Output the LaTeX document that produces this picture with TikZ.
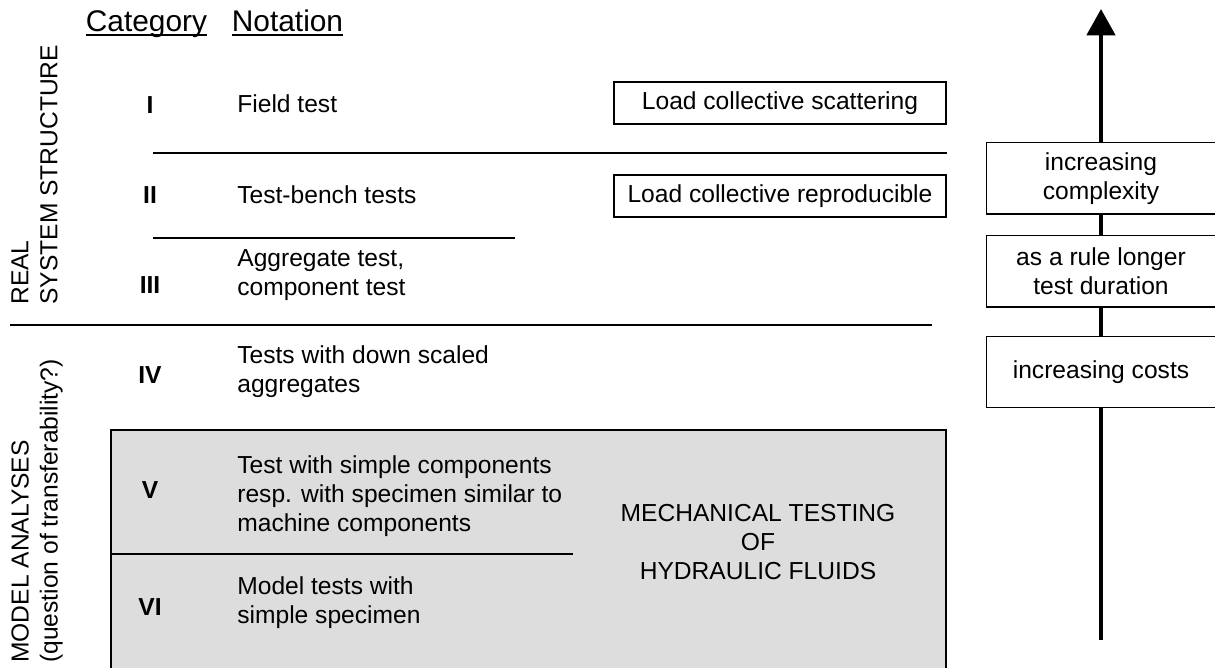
\documentclass[tikz,border=0pt]{standalone}
\usepackage{fontspec}
\setmainfont{Liberation Sans}
\usepackage{tikz}
\usetikzlibrary{arrows.meta,positioning,calc}
\definecolor{boxgray}{HTML}{DDDDDD}
\newcommand{\bodyfont}{\fontsize{14}{16.5}\selectfont}
\tikzset{
  sepline/.style={line width=.85pt},
  txt/.style={inner sep=0pt,align=left},
  heading/.style={inner sep=0pt,font=\fontsize{17}{20}\selectfont},
  numeral/.style={inner sep=0pt,font=\bodyfont\bfseries},
  loadbox/.style={draw,line width=.85pt,minimum width=6.64cm,minimum height=.84cm,inner sep=0pt},
  trendbox/.style={draw,fill=white,line width=.85pt,minimum width=4.58cm,minimum height=1.43cm,inner sep=0pt,align=center},
  trendline/.style={line width=2.5pt}
}

\begin{document}
\begin{tikzpicture}[x=.02cm,y=-.02cm,font=\bodyfont]
 \useasboundingbox (0,0) rectangle (1215,668);
 \fill[boxgray] (111,430) rectangle (946,672);
 \draw[sepline] (111,672)--(111,430)--(946,430)--(946,672);
 \draw[sepline] (153,153)--(947,153);
 \draw[sepline] (153,238)--(515,238);
 \draw[sepline] (10,325)--(932,325);
 \draw[sepline] (111,554)--(573,554);
 % headings
 \node[heading,anchor=base] (cat) at (146.5,32) {Category};
 \node[heading,anchor=base] (nota) at (287.5,32) {Notation};
 \foreach \n in {cat,nota}
   \draw[line width=.8pt] ([yshift=-.06cm]\n.base west)--([yshift=-.06cm]\n.base east);
 % categories
 \foreach \n/\y/\r in {c1/105/I,c2/195/II,c3/285/III,c4/375/IV,c5/490/V,c6/607/VI}
   \node[numeral] (\n) at (150,\y) {\r};
 \node[txt,anchor=west] (t1) at (237,104) {Field test};
 \node[txt,anchor=west] (t2) at (237,195) {Test-bench tests};
 \node[txt,anchor=west] (t3) at (237,275) {Aggregate test,\\component test};
 \node[txt,anchor=west] (t4) at (237,372) {Tests with down scaled\\aggregates};
 \node[txt,anchor=west] (t5) at (237,496) {Test with simple components\\resp. with specimen similar to\\machine components};
 \node[txt,anchor=west] (t6) at (237,603) {Model tests with\\simple specimen};
 \node[txt,align=center] (mech) at (758,542) {MECHANICAL TESTING\\OF\\HYDRAULIC FLUIDS};
 \node[loadbox] (scat) at (780,103) {Load collective scattering};
 \node[loadbox] (repr) at (780,196) {Load collective reproducible};
 % side labels
 \node[txt,rotate=90,anchor=north west] (real) at (11,305) {REAL\\SYSTEM STRUCTURE};
 \node[txt,rotate=90,anchor=north west] (model) at (11,663) {MODEL ANALYSES\\(question of transferability?)};
 % trend arrow
 \coordinate (base) at (1101,640);
 \coordinate (tip) at (1101,9);
 \node[trendbox] (cost) at (1101,372) {increasing costs};
 \node[trendbox] (dur) at (1101,271.5) {as a rule longer\\test duration};
 \node[trendbox] (cplx) at (1101,178.5) {increasing\\complexity};
 \draw[trendline] (base)--(cost);
 \draw[trendline] (cost)--(dur);
 \draw[trendline] (dur)--(cplx);
 \draw[trendline,-{Triangle[length=15pt,width=16pt]}] (cplx)--(tip);
\end{tikzpicture}
\end{document}
